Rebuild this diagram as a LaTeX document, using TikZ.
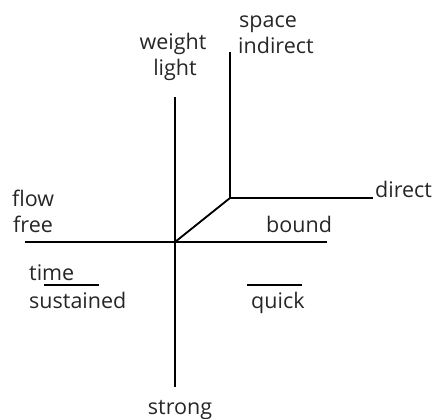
\documentclass[tikz,border=0pt]{standalone}
\usepackage{fontspec}
\setmainfont{Open Sans}
\begin{document}
\begin{tikzpicture}[x=1pt,y=-1pt,
  axis/.style={line width=1.8pt,black},
  lbl/.style={inner sep=0pt,anchor=base,font=\fontsize{21.5}{24}\selectfont,text=black!85}]
\useasboundingbox (0,0) rectangle (437,419);
% coordinates
\coordinate (vtop) at (175,97);
\coordinate (vbot) at (175,387);
\coordinate (o) at (175,242);
\coordinate (hl) at (25,242);
\coordinate (hr) at (327,242);
\coordinate (s) at (230,198);
\coordinate (stop) at (230,52);
\coordinate (sdir) at (373,198);
\coordinate (tl) at (44,285);
\coordinate (tr) at (99,285);
\coordinate (ql) at (247,285);
\coordinate (qr) at (302,285);
% lines
\draw[axis] (vtop) -- (vbot);
\draw[axis] (hl) -- (hr);
\draw[axis] (o) -- (s);
\draw[axis] (stop) -- (s) -- (sdir);
\draw[line width=1.5pt] (tl) -- (tr);
\draw[line width=1.5pt] (ql) -- (qr);
% labels
\node[lbl] (weight) at (173,50) {weight};
\node[lbl] (light) at (175,76) {light};
\node[lbl,anchor=base west] (space) at (239,28) {space};
\node[lbl,anchor=base west] (indirect) at (238,54) {indirect};
\node[lbl,anchor=base west] (direct) at (375,198) {direct};
\node[lbl,anchor=base west] (flow) at (12,207) {flow};
\node[lbl,anchor=base west] (free) at (13,233) {free};
\node[lbl,anchor=base west] (bound) at (266,233) {bound};
\node[lbl,anchor=base west] (time) at (29,281) {time};
\node[lbl,anchor=base west] (sustained) at (29,309) {sustained};
\node[lbl,anchor=base west] (quick) at (251,309) {quick};
\node[lbl] (strong) at (180,415) {strong};
\end{tikzpicture}
\end{document}
